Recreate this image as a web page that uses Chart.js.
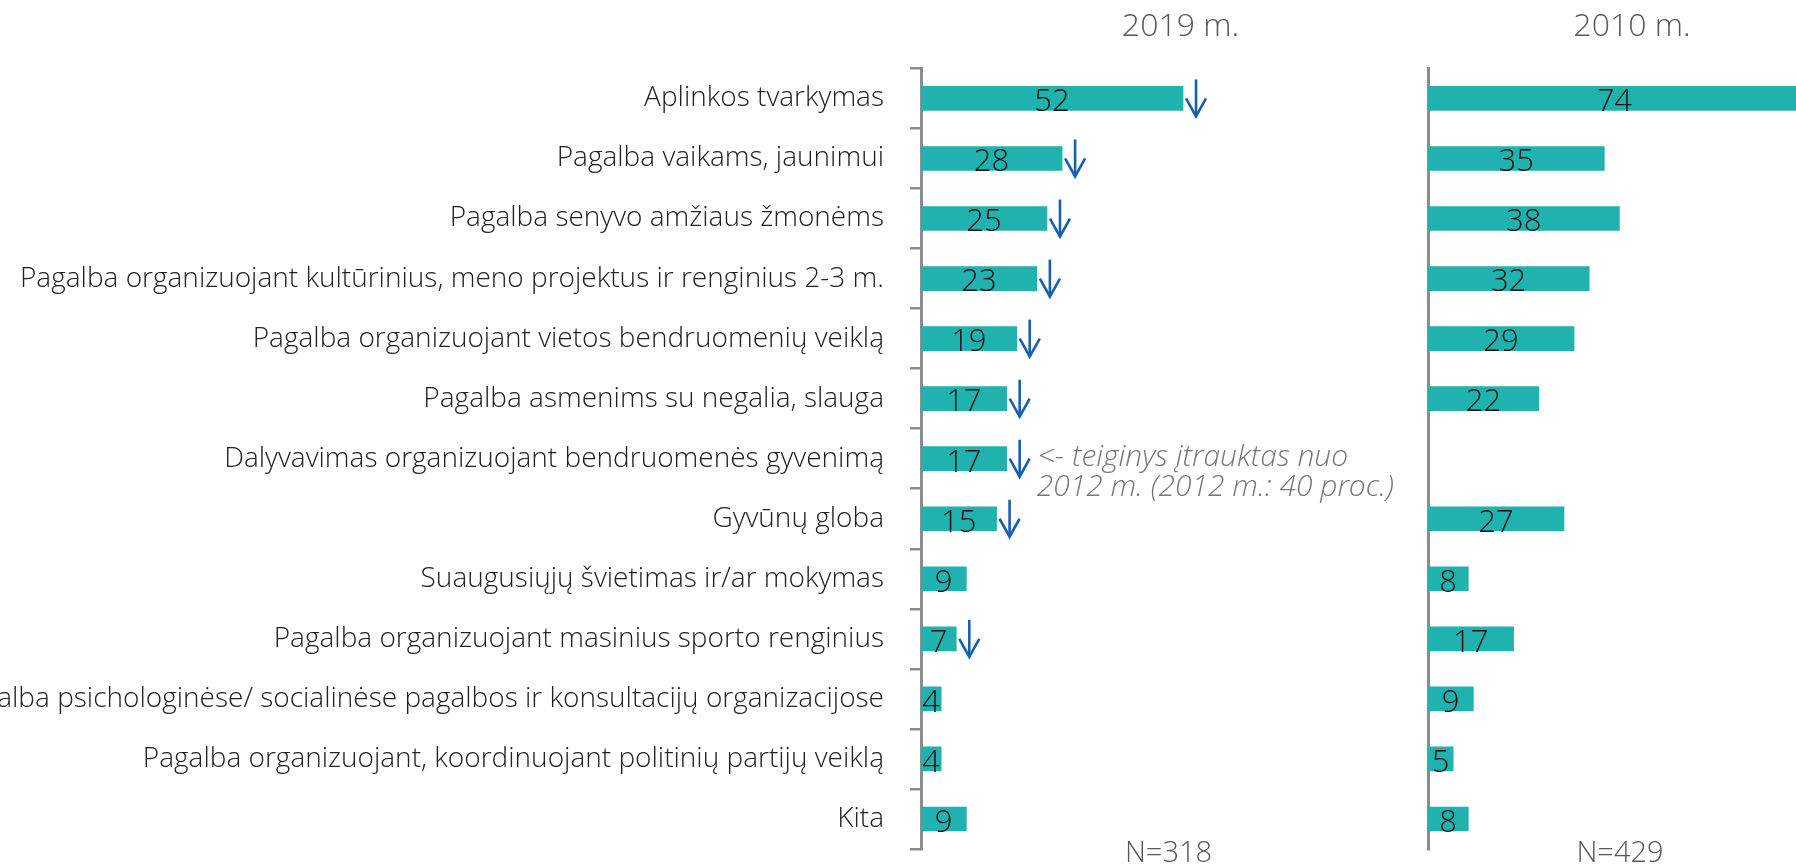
<!DOCTYPE html>
<html><head><meta charset="utf-8">
<script src="https://cdn.jsdelivr.net/npm/chart.js@4/dist/chart.umd.min.js"></script>
<style>
html,body{margin:0;padding:0;background:#fff;overflow:hidden;width:1796px;height:865px;position:relative}
#c1{position:absolute;left:0;top:0}
#c2{position:absolute;left:1300px;top:0}
</style></head><body>
<canvas id="c1" width="1440" height="865"></canvas>
<canvas id="c2" width="536" height="865"></canvas>
<script>
const categories = [
  "Aplinkos tvarkymas",
  "Pagalba vaikams, jaunimui",
  "Pagalba senyvo amžiaus žmonėms",
  "Pagalba organizuojant kultūrinius, meno projektus ir renginius 2-3 m.",
  "Pagalba organizuojant vietos bendruomenių veiklą",
  "Pagalba asmenims su negalia, slauga",
  "Dalyvavimas organizuojant bendruomenės gyvenimą",
  "Gyvūnų globa",
  "Suaugusiųjų švietimas ir/ar mokymas",
  "Pagalba organizuojant masinius sporto renginius",
  "Pagalba psichologinėse/ socialinėse pagalbos ir konsultacijų organizacijose",
  "Pagalba organizuojant, koordinuojant politinių partijų veiklą",
  "Kita"
];
const values2019 = [52, 28, 25, 23, 19, 17, 17, 15, 9, 7, 4, 4, 9];
const values2010 = [74, 35, 38, 32, 29, 22, null, 27, 8, 17, 9, 5, 8];
const trend2019 = ["down","down","down","down","down","down","down","down","","down","","",""];
const title2019 = "2019 m.";
const title2010 = "2010 m.";
const n2019 = "N=318";
const n2010 = "N=429";
const noteRow = 6;
const noteLines = ["<- teiginys įtrauktas nuo", "2012 m. (2012 m.: 40 proc.)"];

const FONT = "'Open Sans', 'Noto Sans', sans-serif";
const BAR = "#20b2ae";
const AXIS = "#8c8c8c";
Chart.defaults.font.family = FONT;

const valueLabels = {
  id: 'valueLabels',
  afterDatasetsDraw(chart) {
    const meta = chart.getDatasetMeta(0);
    const data = chart.data.datasets[0].data;
    const ctx = chart.ctx;
    ctx.save();
    ctx.font = "300 31px " + FONT;
    ctx.fillStyle = "#111";
    ctx.textAlign = "center";
    ctx.textBaseline = "middle";
    meta.data.forEach((bar, i) => {
      if (data[i] == null) return;
      ctx.fillText(String(data[i]), (bar.x + bar.base) / 2, bar.y + 4);
    });
    ctx.restore();
  }
};

const extras = {
  id: 'extras',
  afterDraw(chart, args, opts) {
    const ctx = chart.ctx;
    const xs = chart.scales.x, ys = chart.scales.y;
    const area = chart.chartArea;
    const data = chart.data.datasets[0].data;
    ctx.save();
    if (opts.trend) {
      ctx.strokeStyle = "#1560b0";
      ctx.lineWidth = 2.6;
      opts.trend.forEach((t, i) => {
        if (t !== "down") return;
        const x = xs.getPixelForValue(data[i]) + 13;
        const y = ys.getPixelForValue(i);
        ctx.beginPath();
        ctx.moveTo(x, y - 19);
        ctx.lineTo(x, y + 18);
        ctx.stroke();
        ctx.beginPath();
        ctx.moveTo(x - 10, y);
        ctx.lineTo(x, y + 18);
        ctx.lineTo(x + 10, y);
        ctx.stroke();
      });
    }
    if (opts.note) {
      const x = xs.getPixelForValue(data[opts.noteRow]) + 30;
      const y = ys.getPixelForValue(opts.noteRow);
      ctx.font = "italic 300 30px " + FONT;
      ctx.fillStyle = "#777";
      ctx.textAlign = "left";
      ctx.textBaseline = "alphabetic";
      opts.note.forEach((line, k) => ctx.fillText(line, x + (k === 0 ? 1 : 0), y + 7 + k * 30));
    }
    if (opts.n) {
      ctx.font = "300 29px " + FONT;
      ctx.fillStyle = "#595959";
      ctx.textAlign = "center";
      ctx.textBaseline = "middle";
      ctx.fillText(opts.n, (area.left + area.right) / 2 - 12, area.bottom + 5);
    }
    ctx.restore();
  }
};

function makeChart(id, values, title, showLabels, axisWidth, xMax, extraOpts) {
  return new Chart(document.getElementById(id), {
    type: 'bar',
    data: {
      labels: categories,
      datasets: [{ data: values, backgroundColor: BAR, borderWidth: 0, barThickness: 24 }]
    },
    options: {
      indexAxis: 'y',
      responsive: false,
      animation: false,
      layout: { padding: { top: 0, right: 0, bottom: 16, left: 0 } },
      plugins: {
        legend: { display: false },
        tooltip: { enabled: false },
        title: {
          display: true, text: title, fullSize: false,
          color: "#595959", font: { size: 32, weight: 300 },
          padding: { top: 8, bottom: 22 }
        },
        extras: extraOpts
      },
      scales: {
        x: { display: false, min: 0, max: xMax },
        y: {
          offset: true,
          grid: { display: showLabels, drawOnChartArea: false, drawTicks: true, tickLength: 11, color: AXIS, lineWidth: 2.5, offset: true },
          border: { display: true, color: AXIS, width: 3 },
          ticks: { display: showLabels, autoSkip: false, padding: 26, color: "#222", font: { size: 28, weight: 300 }, crossAlign: 'near' },
          afterFit: s => { s.width = axisWidth; s.paddingTop = 0; s.paddingBottom = 0; }
        }
      }
    },
    plugins: [valueLabels, extras]
  });
}

makeChart('c1', values2019, title2019, true, 921, 103, { trend: trend2019, note: noteLines, noteRow: noteRow, n: n2019 });
makeChart('c2', values2010, title2010, false, 128, 81, { n: n2010 });
</script>
</body></html>
